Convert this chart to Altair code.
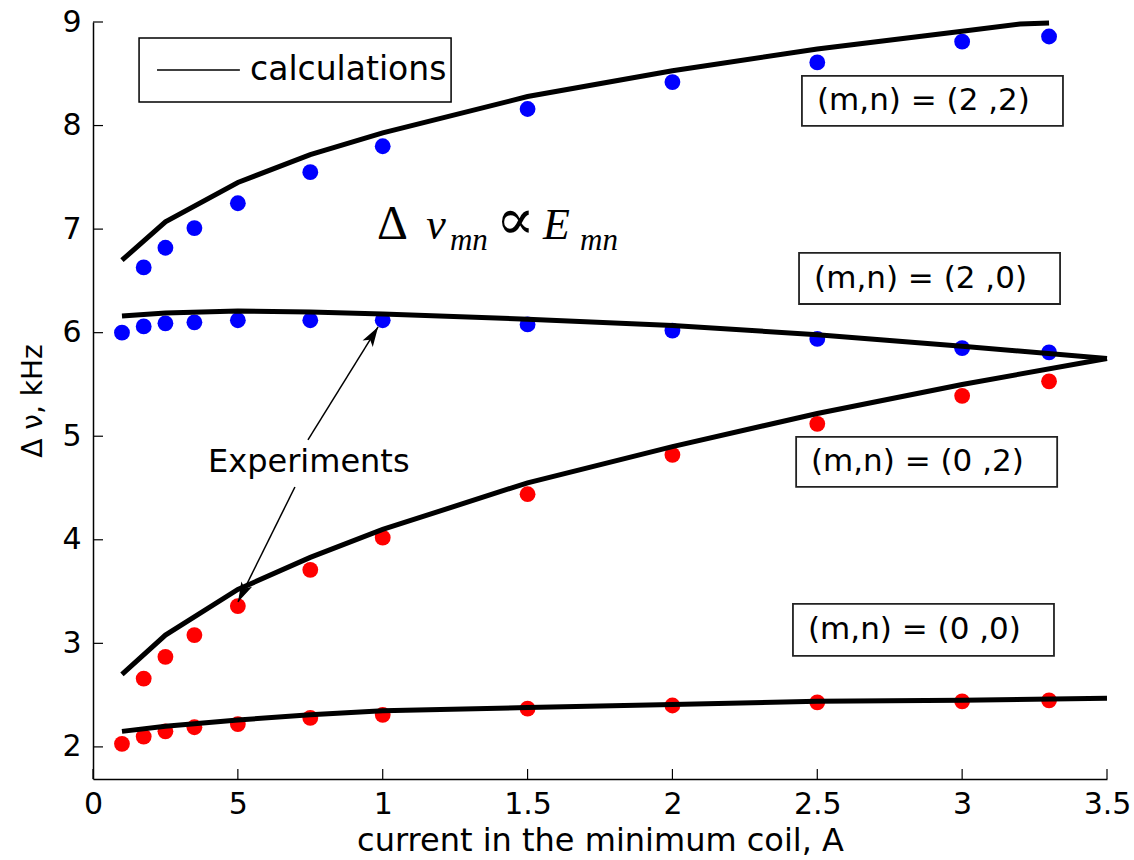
import math
import altair as alt
import pandas as pd

# ---------------- data ----------------
x_exp = [0.1, 0.175, 0.25, 0.35, 0.5, 0.75, 1.0, 1.5, 2.0, 2.5, 3.0, 3.3]
exp_22 = [None, 6.63, 6.82, 7.01, 7.25, 7.55, 7.80, 8.16, 8.42, 8.61, 8.81, 8.86]
exp_20 = [6.00, 6.06, 6.09, 6.10, 6.12, 6.12, 6.12, 6.08, 6.02, 5.94, 5.85, 5.81]
exp_02 = [None, 2.66, 2.87, 3.08, 3.36, 3.71, 4.02, 4.44, 4.82, 5.12, 5.39, 5.53]
exp_00 = [2.03, 2.10, 2.15, 2.19, 2.22, 2.28, 2.31, 2.37, 2.40, 2.43, 2.44, 2.45]

x_calc_22 = [0.1, 0.25, 0.5, 0.75, 1.0, 1.5, 2.0, 2.5, 3.0, 3.2, 3.3]
calc_22 = [6.70, 7.07, 7.45, 7.72, 7.93, 8.28, 8.53, 8.74, 8.91, 8.98, 8.99]
x_calc = [0.1, 0.25, 0.5, 0.75, 1.0, 1.5, 2.0, 2.5, 3.0, 3.5]
calc_20 = [6.16, 6.19, 6.21, 6.20, 6.18, 6.13, 6.07, 5.98, 5.87, 5.75]
calc_02 = [2.70, 3.08, 3.52, 3.83, 4.10, 4.55, 4.90, 5.22, 5.50, 5.75]
calc_00 = [2.15, 2.20, 2.26, 2.31, 2.35, 2.38, 2.41, 2.44, 2.45, 2.47]

x_ticks = [0, 0.5, 1, 1.5, 2, 2.5, 3, 3.5]
x_tick_labels = ["0", "5", "1", "1.5", "2", "2.5", "3", "3.5"]
y_ticks = [2, 3, 4, 5, 6, 7, 8, 9]

mode_labels = ["(m,n) = (2 ,2)", "(m,n) = (2 ,0)", "(m,n) = (0 ,2)", "(m,n) = (0 ,0)"]
box_x1 = [2.447, 2.437, 2.427, 2.416]
box_x2 = [3.348, 3.338, 3.328, 3.317]
box_y1 = [8.479, 6.770, 4.993, 3.381]
box_y2 = [7.996, 6.277, 4.510, 2.879]
label_x = [2.499, 2.489, 2.478, 2.468]
label_y = [8.237, 6.523, 4.752, 3.130]

arrow_sx = [0.742, 0.697]
arrow_sy = [4.964, 4.510]
arrow_tx = [0.984, 0.5005]
arrow_ty = [6.055, 3.400]

XMIN, XMAX = 0.0, 3.5
YMIN, YMAX = 1.69, 9.0
W, H = 1014, 757

FONT = "DejaVu Sans"
SERIF = "Liberation Serif"

# ---------------- tables ----------------
rows = []
for name, grp, vals in [("22", "blue", exp_22), ("20", "blue", exp_20),
                        ("02", "red", exp_02), ("00", "red", exp_00)]:
    for x, v in zip(x_exp, vals):
        if v is not None:
            rows.append({"x": x, "y": v, "series": name, "grp": grp})
exp_df = pd.DataFrame(rows)

rows = []
for name, xs_, vals in [("22", x_calc_22, calc_22), ("20", x_calc, calc_20),
                        ("02", x_calc, calc_02), ("00", x_calc, calc_00)]:
    for x, v in zip(xs_, vals):
        rows.append({"x": x, "y": v, "series": name})
calc_df = pd.DataFrame(rows)

xs = alt.Scale(domain=[XMIN, XMAX], nice=False, zero=False)
ys = alt.Scale(domain=[YMIN, YMAX], nice=False, zero=False)

label_map = "{" + ",".join(f"'{v}':'{l}'" for v, l in zip(["0", "0.5", "1", "1.5", "2", "2.5", "3", "3.5"], x_tick_labels)) + "}"

xax = alt.Axis(values=x_ticks, format=".1~f", labelExpr=label_map + "[datum.label]",
               title="current in the minimum coil, A", ticks=False, grid=False, labelFlush=False,
               labelPadding=10, titlePadding=6)
yax = alt.Axis(values=y_ticks, format="d", title="Δ ν, kHz", ticks=False, grid=False, labelFlush=False,
               labelPadding=12, titlePadding=14, titleFontSize=28)


def X(f):
    return alt.X(f, type="quantitative", scale=xs, axis=xax)


def Y(f):
    return alt.Y(f, type="quantitative", scale=ys, axis=yax)


points = alt.Chart(exp_df).mark_circle(size=250, opacity=1).encode(
    x=X("x"), y=Y("y"),
    color=alt.Color("grp:N", scale=alt.Scale(domain=["blue", "red"], range=["#0000ff", "#ff0000"]), legend=None),
)

lines = alt.Chart(calc_df).mark_line(color="black", strokeWidth=5).encode(
    x=X("x"), y=Y("y"), detail="series:N"
)

xt = alt.Chart(pd.DataFrame({"x": x_ticks})).mark_rule(color="black", strokeWidth=1.2).encode(
    x=X("x"), y=alt.value(H), y2=alt.value(H - 10)
)
yt = alt.Chart(pd.DataFrame({"y": y_ticks})).mark_rule(color="black", strokeWidth=1.2).encode(
    y=Y("y"), x=alt.value(0), x2=alt.value(10)
)

# arrows
ang = []
for sx, sy, tx, ty in zip(arrow_sx, arrow_sy, arrow_tx, arrow_ty):
    dx = (tx - sx) * W / (XMAX - XMIN)
    dy = -(ty - sy) * H / (YMAX - YMIN)
    a = math.degrees(math.atan2(dx, -dy)) % 360
    ang.append(a)
arrow_df = pd.DataFrame({"sx": arrow_sx, "sy": arrow_sy, "tx": arrow_tx, "ty": arrow_ty, "ang": ang})
arrow_lines = alt.Chart(arrow_df).mark_rule(color="black", strokeWidth=1.5).encode(
    x=X("sx"), y=Y("sy"), x2="tx", y2="ty"
)
arrow_heads = alt.Chart(arrow_df).mark_point(
    shape="M0,0 L0.38,1.25 L0,0.95 L-0.38,1.25 Z", filled=True, color="black", opacity=1, size=1000
).encode(x=X("tx"), y=Y("ty"), angle=alt.Angle("ang:Q", scale=None))

# legend box
leg_box = alt.Chart(pd.DataFrame({"x1": [0.159], "x2": [1.236], "y1": [8.846], "y2": [8.228]})).mark_rect(
    fill="white", stroke="black", strokeWidth=1.5
).encode(x=X("x1"), x2="x2", y=Y("y1"), y2="y2")
leg_line = alt.Chart(pd.DataFrame({"x1": [0.221], "x2": [0.507], "y": [8.537]})).mark_rule(
    color="black", strokeWidth=1.5
).encode(x=X("x1"), x2="x2", y=Y("y"))
leg_text = alt.Chart(pd.DataFrame({"x": [0.542], "y": [8.537], "t": ["calculations"]})).mark_text(
    align="left", baseline="middle", font=FONT, fontSize=33, color="black"
).encode(x=X("x"), y=Y("y"), text="t:N")

# mode boxes
mode_df = pd.DataFrame({"x1": box_x1, "x2": box_x2, "y1": box_y1, "y2": box_y2,
                        "lx": label_x, "ly": label_y, "t": mode_labels})
mode_box = alt.Chart(mode_df).mark_rect(fill="white", stroke="#222222", strokeWidth=1.8).encode(
    x=X("x1"), x2="x2", y=Y("y1"), y2="y2"
)
mode_text = alt.Chart(mode_df).mark_text(
    align="left", baseline="middle", font=FONT, fontSize=31, color="black"
).encode(x=X("lx"), y=Y("ly"), text="t:N")

# Experiments label
exp_text = alt.Chart(pd.DataFrame({"x": [0.397], "y": [4.752], "t": ["Experiments"]})).mark_text(
    align="left", baseline="middle", font=FONT, fontSize=32, color="black"
).encode(x=X("x"), y=Y("y"), text="t:N")

# formula
f_delta = pd.DataFrame({"x": [0.980], "y": [6.905], "t": ["Δ"]})
f_prop = pd.DataFrame({"x": [1.390], "y": [6.905], "t": ["∝"]})
f_it = pd.DataFrame({"x": [1.150, 1.232, 1.553, 1.681], "y": [6.905, 6.80, 6.905, 6.80],
                     "t": ["ν", "mn", "E", "mn"], "s": [44, 31, 44, 31]})
form_delta = alt.Chart(f_delta).mark_text(align="left", baseline="alphabetic", font=SERIF, fontSize=48,
                                          color="black").encode(x=X("x"), y=Y("y"), text="t:N")
form_prop = alt.Chart(f_prop).mark_text(align="left", baseline="alphabetic", font="DejaVu Serif", fontSize=58,
                                        color="black").encode(x=X("x"), y=Y("y"), text="t:N")
form_it = alt.Chart(f_it).mark_text(align="left", baseline="alphabetic", font=SERIF, fontStyle="italic",
                                    color="black").encode(
    x=X("x"), y=Y("y"), text="t:N", size=alt.Size("s:Q", scale=None)
)

chart = alt.layer(
    points, lines, xt, yt, arrow_lines, arrow_heads,
    leg_box, leg_line, leg_text, mode_box, mode_text, exp_text, form_delta, form_prop, form_it
).properties(
    width=W, height=H, autosize="none",
    padding={"left": 93, "top": 22, "right": 27, "bottom": 81},
    background="white",
).configure_view(stroke=None).configure_axis(
    domainColor="black", domainWidth=1.5, labelFont=FONT, labelFontSize=30, labelColor="black",
    titleFont=FONT, titleFontSize=32, titleFontWeight="normal", titleColor="black",
)

chart.save("out.html", embed_options={"renderer": "svg", "actions": False})
